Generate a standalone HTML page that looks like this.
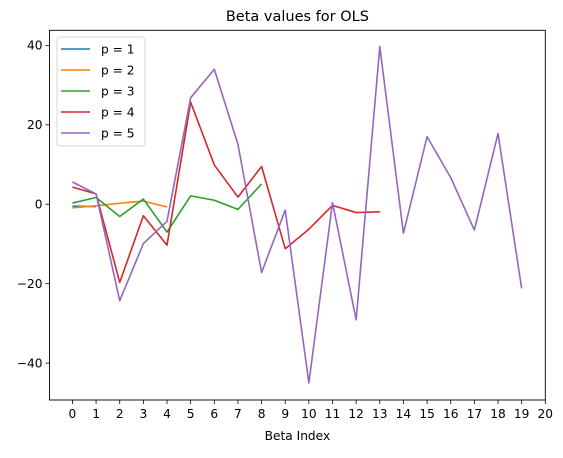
<!DOCTYPE html>
<html><head><meta charset="utf-8"><style>
body{margin:0;background:#fff}
svg text{font-family:"DejaVu Sans","Liberation Sans",sans-serif;fill:#000}
</style></head><body>
<svg id="chart" width="563" height="453" xmlns="http://www.w3.org/2000/svg"></svg>
<script>
const xTicks=[0,1,2,3,4,5,6,7,8,9,10,11,12,13,14,15,16,17,18,19,20];
const yTicks=[-40,-20,0,20,40];
const seriesNames=["p = 1","p = 2","p = 3","p = 4","p = 5"];
const colors=["#1f77b4","#ff7f0e","#2ca02c","#d62728","#9467bd"];
const p1=[-0.5,-0.6];
const p2=[-0.9,-0.4,0.25,0.8,-0.7];
const p3=[0.3,1.7,-3.1,1.3,-7,2.1,1.0,-1.3,5.1];
const p4=[4.3,2.6,-19.7,-2.9,-10.3,25.7,9.9,1.8,9.5,-11.2,-6.3,-0.3,-2.1,-1.9];
const p5=[5.6,2.6,-24.3,-9.9,-4.3,26.8,34,15.1,-17.2,-1.5,-45,0.4,-29.1,39.7,-7.3,17,6.7,-6.5,17.8,-21.2];
const series=[p1,p2,p3,p4,p5];

const L=49.5,R=545.3,T=30.3,B=400;
const xMin=-0.97,xMax=20,yMin=-49.3,yMax=43.8;
const X=v=>L+(v-xMin)/(xMax-xMin)*(R-L);
const Y=v=>B-(v-yMin)/(yMax-yMin)*(B-T);
const svg=document.getElementById('chart');
const NS="http://www.w3.org/2000/svg";
function mk(tag,attrs,parent){const e=document.createElementNS(NS,tag);for(const k in attrs)e.setAttribute(k,attrs[k]);(parent||svg).appendChild(e);return e;}

const title=mk('text',{x:(L+R)/2,y:21,'text-anchor':'middle','font-size':'14.5'});
title.textContent="Beta values for OLS";



const xl=mk('text',{x:(L+R)/2,y:440,'text-anchor':'middle','font-size':'12.2'});
xl.textContent="Beta Index";



xTicks.forEach(t=>{
  const g=mk('g',{});
  
  
  mk('line',{x1:X(t),x2:X(t),y1:B,y2:B+4,stroke:'#000','stroke-width':0.8},g);
  const tx=mk('text',{x:X(t),y:B+18,'text-anchor':'middle','font-size':'12.2'},g);
  tx.textContent=t;
});
yTicks.forEach(t=>{
  const g=mk('g',{});
  
  
  mk('line',{x1:L-4,x2:L,y1:Y(t),y2:Y(t),stroke:'#000','stroke-width':0.8},g);
  const tx=mk('text',{x:L-7,y:Y(t)+4.3,'text-anchor':'end','font-size':'12.2'},g);
  tx.textContent=(t<0?'\u2212'+(-t):t);
});

series.forEach((s,i)=>{
  const pl=mk('polyline',{points:s.map((v,j)=>X(j)+','+Y(v)).join(' '),fill:'none',stroke:colors[i],'stroke-width':1.6,'stroke-linejoin':'round'});
  
  
});

const frame=mk('rect',{x:L,y:T,width:R-L,height:B-T,fill:'none',stroke:'#000','stroke-width':0.9});



const lg=mk('g',{});


mk('rect',{x:57,y:37,width:88,height:109,rx:3,fill:'#fff','fill-opacity':0.8,stroke:'#ccc','stroke-width':0.8},lg);
seriesNames.forEach((n,i)=>{
  const y=49+i*21;
  const e=mk('g',{},lg);
  
  
  mk('line',{x1:61,x2:90,y1:y,y2:y,stroke:colors[i],'stroke-width':1.6},e);
  const t=mk('text',{x:101,y:y+4.5,'font-size':'12.2'},e);
  t.textContent=n;
});
</script>
</body></html>
